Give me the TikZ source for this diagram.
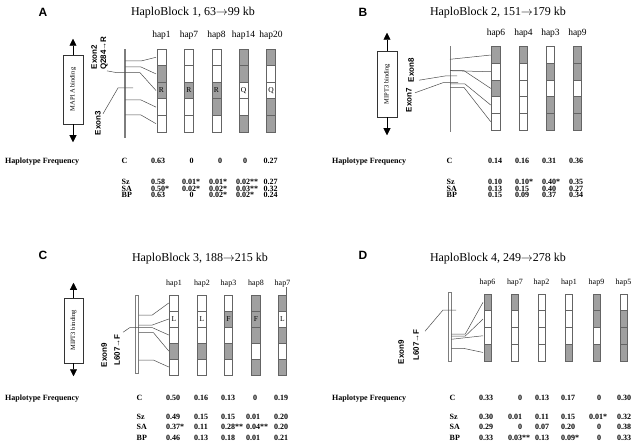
\documentclass[tikz,border=0pt]{standalone}
\usepackage{fontspec}
\setmainfont{Liberation Serif}
\setsansfont{Liberation Sans}
\usetikzlibrary{arrows.meta}

\definecolor{hapgray}{RGB}{160,160,160}
\definecolor{edgegray}{RGB}{100,100,100}
\definecolor{chrgray}{RGB}{125,125,125}

\tikzset{
  panel/.style={font=\sffamily\bfseries\fontsize{12}{12}\selectfont, inner sep=0pt},
  blocktitle/.style={font=\fontsize{12}{12}\selectfont, inner sep=0pt},
  haplabel/.style={font=\fontsize{9.5}{9.5}\selectfont, inner sep=0pt, anchor=base, yshift=11pt},
  cell/.style={draw=edgegray, line width=0.6pt, rectangle, inner sep=0pt, outer sep=0pt},
  aa/.style={font=\fontsize{7.5}{7.5}\selectfont, inner sep=0pt},
  exon/.style={font=\sffamily\bfseries\fontsize{8}{8}\selectfont, rotate=90, inner sep=0pt},
  bindbox/.style={draw=black!80, line width=0.5pt, rectangle, inner sep=0pt, rotate=90, font=\fontsize{6.5}{6.5}\selectfont},
  tip/.style={-{Triangle[width=7pt,length=7pt]}, line width=0.6pt},
  exline/.style={draw=black!70, line width=0.5pt},
  freq/.style={font=\bfseries\fontsize{8}{8}\selectfont, inner sep=0pt, anchor=base},
}

\newcommand{\sg}{\rlap{*}}
\newcommand{\sgg}{\rlap{**}}

% name, x, top, width, cell height, label, fills
\newcommand{\hapbar}[7]{%
  \foreach \c [count=\k] in {#7}
    \node[cell, fill=\c, minimum width=#4pt, minimum height=#5pt] (#1-\k) at (#2, {#3+(\k-0.5)*#5}) {};
  \node[haplabel] (#1-lab) at (#2,#3) {#6};
}

% name, x of label, baseline, label, list of x/value
\newcommand{\freqrow}[5]{%
  \node[freq, anchor=base west] (#1) at (#2,#3) {#4};
  \foreach \x/\v [count=\k] in {#5}
    \node[freq] (#1-\k) at (\x,#3) {\v};
}

\begin{document}
\begin{tikzpicture}[x=1pt, y=-1pt]
\useasboundingbox (0,0) rectangle (641,444);

% ---------- A ----------
\node[panel] (pA) at (43,12) {A};
\node[blocktitle] (tA) at (193,13) {HaploBlock 1, 63$\rightarrow$99 kb};
\node[bindbox, minimum width=69pt, minimum height=20pt] (bA) at (73,89.5) {MAP1A binding};
\draw[tip] (bA.east) -- ++(0,-16);
\draw[tip] (bA.west) -- ++(0,18);
\node[fill=chrgray, minimum width=1.6pt, minimum height=89pt, inner sep=0pt] (chrA) at (125,93.5) {};
\hapbar{A1}{161.5}{49}{9}{16.6}{hap1}{white,hapgray,hapgray,white,white}
\hapbar{A2}{189}{49}{9}{16.6}{hap7}{white,white,hapgray,white,white}
\hapbar{A3}{216.5}{49}{9}{16.6}{hap8}{white,white,hapgray,hapgray,white}
\hapbar{A4}{243.5}{49}{9}{16.6}{hap14}{hapgray,hapgray,white,white,hapgray}
\hapbar{A5}{271}{49}{9}{16.6}{hap20}{hapgray,white,white,hapgray,hapgray}
\node[aa] (A1-aa) at (A1-3) {R};
\node[aa] (A2-aa) at (A2-3) {R};
\node[aa] (A3-aa) at (A3-3) {R};
\node[aa] (A4-aa) at (A4-3) {Q};
\node[aa] (A5-aa) at (A5-3) {Q};
\node[exon] (eA2) at (94,57) {Exon2};
\node[exon] (qA) at (104,53) {Q284→R};
\node[exon] (eA3) at (98,123) {Exon3};
\draw[exline] (chrA.center |- 0,61) -- ++(16,0) -- ([xshift=-1pt]A1-1.west);
\draw[exline] (chrA.center |- 0,67) -- ++(16,0) -- ([xshift=-1pt]A1-2.west);
\draw[exline] ([shift={(3,1)}]qA.west) -- (117,72.7) -- (140,72.7) -- ([xshift=-1pt]A1-3.west);
\draw[exline] ([shift={(5,3)}]eA3.east) -- (118,88) -- (133,88);
\draw[exline] (chrA.center |- 0,100) -- ++(16,0) -- ([xshift=-1pt]A1-4.west);
\draw[exline] (chrA.center |- 0,115) -- ++(16,0) -- ([xshift=-1pt]A1-5.west);
\node[freq, anchor=base west] (hfA) at (5,164) {Haplotype Frequency};
\freqrow{A-C}{121.5}{164}{C}{158/0.63, 191.7/0, 220/0, 245/0, 270.5/0.27}
\freqrow{A-Sz}{121.5}{184}{Sz}{158/0.58, 189/0.01\sg, 216/0.01\sg, 243/0.02\sgg, 270.5/0.27}
\freqrow{A-SA}{121.5}{191}{SA}{158/0.50\sg, 189/0.02\sg, 216/0.02\sg, 243/0.03\sgg, 270.5/0.32}
\freqrow{A-BP}{121.5}{197.7}{BP}{158/0.63, 191.7/0, 216/0.02\sg, 243/0.02\sg, 270.5/0.24}

% ---------- B ----------
\node[panel] (pB) at (363,12) {B};
\node[blocktitle] (tB) at (498,13) {HaploBlock 2, 151$\rightarrow$179 kb};
\node[bindbox, minimum width=66pt, minimum height=20pt] (bB) at (387,84) {MIPT3 binding};
\draw[tip] (bB.east) -- ++(0,-18);
\draw[tip] (bB.west) -- ++(0,18);
\node[fill=chrgray, minimum width=1pt, minimum height=86pt, inner sep=0pt] (chrB) at (450,89) {};
\hapbar{B1}{496}{46.7}{8.5}{16.67}{hap6}{hapgray,white,hapgray,white,white}
\hapbar{B2}{523.5}{46.7}{8.5}{16.67}{hap4}{hapgray,white,white,white,white}
\hapbar{B3}{550.5}{46.7}{8.5}{16.67}{hap3}{white,hapgray,white,hapgray,hapgray}
\hapbar{B4}{577.5}{46.7}{8.5}{16.67}{hap9}{hapgray,hapgray,white,hapgray,hapgray}
\node[exon] (eB8) at (411,70) {Exon8};
\node[exon] (eB7) at (409,100) {Exon7};
\draw[exline] (chrB.center |- 0,59.3) -- ([xshift=-1pt]B1-1.west);
\draw[exline] (chrB.center |- 0,70.7) -- ([xshift=-1pt]B1-2.west);
\draw[exline] (chrB.center |- 0,70.7) -- ++(14,0) -- ([xshift=-1pt]B1-3.west);
\draw[exline] ([shift={(8,-2)}]eB8.west) -- (445,76) -- (457,76);
\draw[exline] ([shift={(6,5)}]eB7.east) -- (443,82.7) -- (458,82.7);
\draw[exline] (chrB.center |- 0,84) -- ++(15,0) -- ([xshift=-1pt]B1-4.west);
\draw[exline] (chrB.center |- 0,87.5) -- ++(14,0) -- ([xshift=-1pt]B1-5.west);
\node[freq, anchor=base west] (hfB) at (332,164) {Haplotype Frequency};
\freqrow{B-C}{446.5}{164}{C}{495/0.14, 522/0.16, 549/0.31, 576/0.36}
\freqrow{B-Sz}{446.5}{184}{Sz}{495/0.10, 522/0.10\sg, 549/0.40\sg, 576/0.35}
\freqrow{B-SA}{446.5}{191}{SA}{495/0.13, 522/0.15, 549/0.40, 576/0.27}
\freqrow{B-BP}{446.5}{197.7}{BP}{495/0.15, 522/0.09, 549/0.37, 576/0.34}

% ---------- C ----------
\begin{scope}[haplabel/.style={font=\fontsize{8}{8}\selectfont, inner sep=0pt, anchor=base, yshift=9.5pt}]
\node[panel] (pC) at (43,255) {C};
\node[blocktitle] (tC) at (200,259) {HaploBlock 3, 188$\rightarrow$215 kb};
\node[bindbox, minimum width=65pt, minimum height=19pt] (bC) at (73.5,330.5) {MIPT3 binding};
\draw[tip] (bC.east) -- ++(0,-15);
\draw[tip] (bC.west) -- ++(0,13);
\node[draw=chrgray, fill=white, line width=0.6pt, minimum width=3.5pt, minimum height=78pt, inner sep=0pt] (chrC) at (136.75,334) {};
\hapbar{C1}{174}{295}{8.5}{16}{hap1}{white,white,white,hapgray,white}
\hapbar{C2}{202}{295}{8.5}{16}{hap2}{white,white,white,hapgray,white}
\hapbar{C3}{228.5}{295}{8.5}{16}{hap3}{white,hapgray,white,hapgray,white}
\hapbar{C4}{256}{295}{8.5}{16}{hap8}{hapgray,hapgray,hapgray,white,hapgray}
\hapbar{C5}{282.5}{295}{8.5}{16}{hap7}{hapgray,white,hapgray,white,hapgray}
\draw[cell] ([xshift=-0.6pt]C5-1.north east) -- ++(0,-8);
\node[aa] (C1-aa) at (C1-2) {L};
\node[aa] (C2-aa) at (C2-2) {L};
\node[aa] (C3-aa) at (C3-2) {F};
\node[aa] (C4-aa) at (C4-2) {F};
\node[aa] (C5-aa) at (C5-2) {L};
\node[exon] (eC9) at (104,355) {Exon9};
\node[exon] (sC) at (117,350) {L607→F};
\draw[exline] (chrC.east |- 0,315) -- ++(13.5,0) -- ([xshift=-1pt]C1-1.west);
\draw[exline] (chrC.east |- 0,325) -- ++(13.5,0) -- ([xshift=-1pt]C1-2.west);
\draw[exline] ([shift={(6,-2)}]sC.east) -- (130,327.5) -- (152,327.5) -- ([xshift=-1pt]C1-3.west);
\draw[exline] (chrC.east |- 0,332.5) -- ++(14.5,0) -- ([xshift=-1pt]C1-4.west);
\draw[exline] (chrC.east |- 0,360) -- ++(14.5,0) -- ([xshift=-1pt]C1-5.west);
\node[freq, anchor=base west] (hfC) at (5,400.5) {Haplotype Frequency};
\freqrow{C-C}{136.5}{400.5}{C}{173/0.50, 201/0.16, 228/0.13, 255/0, 281/0.19}
\freqrow{C-Sz}{136.5}{419.5}{Sz}{173/0.49, 201/0.15, 228/0.15, 253/0.01, 281/0.20}
\freqrow{C-SA}{136.5}{429.8}{SA}{173/0.37\sg, 201/0.11, 228/0.28\sgg, 253/0.04\sgg, 281/0.20}
\freqrow{C-BP}{136.5}{440}{BP}{173/0.46, 201/0.13, 228/0.18, 253/0.01, 281/0.21}

% ---------- D ----------
\node[panel] (pD) at (363,255) {D};
\node[blocktitle] (tD) at (498,259) {HaploBlock 4, 249$\rightarrow$278 kb};
\node[draw=chrgray, fill=white, line width=0.6pt, minimum width=3pt, minimum height=68.3pt, inner sep=0pt] (chrD) at (449.5,326.85) {};
\hapbar{D1}{487.5}{294}{7}{16.7}{hap6}{hapgray,white,white,hapgray}
\hapbar{D2}{515}{294}{7}{16.7}{hap7}{hapgray,white,white,white}
\hapbar{D3}{541.5}{294}{7}{16.7}{hap2}{white,white,white,white}
\hapbar{D4}{569}{294}{7}{16.7}{hap1}{white,white,white,hapgray}
\hapbar{D5}{596.5}{294}{7}{16.7}{hap9}{hapgray,hapgray,white,hapgray}
\hapbar{D6}{623.5}{294}{7}{16.7}{hap5}{white,hapgray,hapgray,hapgray}
\node[exon] (eD9) at (401,352) {Exon9};
\node[exon] (sD) at (416,345) {L607→F};
\draw[exline] ([shift={(9,2)}]sD.east) -- (443,310) -- (456,310);
\draw[exline] (chrD.east |- 0,334) -- ++(14,0) -- ([xshift=-1pt]D1-1.west);
\draw[exline] (chrD.east |- 0,336) -- ++(14,0) -- ([xshift=-1pt]D1-2.west);
\draw[exline] (chrD.east |- 0,339.3) -- ([xshift=-1pt]D1-3.west);
\draw[exline] (chrD.east |- 0,348.3) -- ++(12,0) -- ([xshift=-1pt]D1-4.west);
\node[freq, anchor=base west] (hfD) at (332,400.5) {Haplotype Frequency};
\freqrow{D-C}{449.5}{400.5}{C}{486/0.33, 520/0, 542/0.13, 568/0.17, 599/0, 624/0.30}
\freqrow{D-Sz}{449.5}{419.5}{Sz}{486/0.30, 515/0.01, 542/0.11, 568/0.15, 596/0.01\sg, 624/0.32}
\freqrow{D-SA}{449.5}{429.8}{SA}{486/0.29, 520/0, 542/0.07, 568/0.20, 599/0, 624/0.38}
\freqrow{D-BP}{449.5}{440}{BP}{486/0.33, 515/0.03\sgg, 542/0.13, 568/0.09\sg, 599/0, 624/0.33}
\end{scope}
\end{tikzpicture}
\end{document}
